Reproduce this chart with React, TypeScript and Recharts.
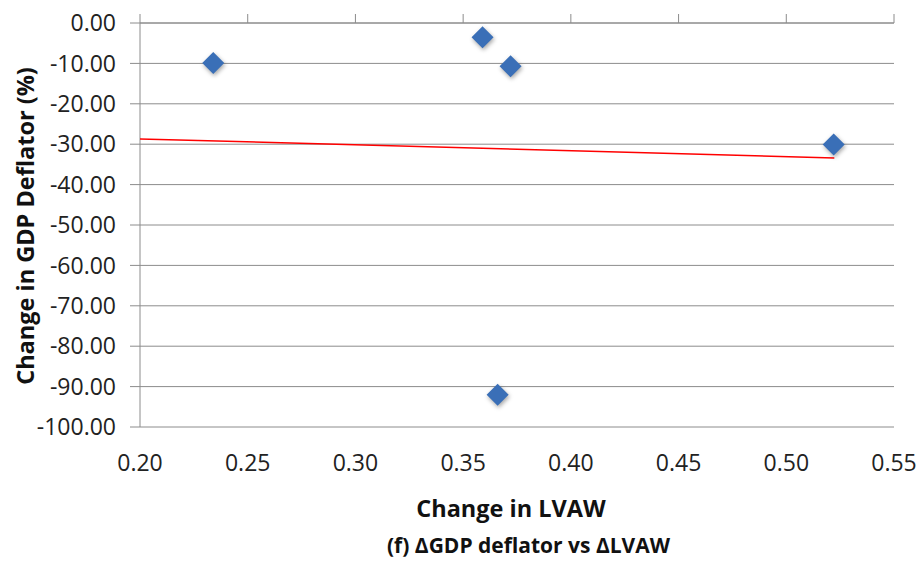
import React from 'react';
import { ScatterChart, Scatter, XAxis, YAxis, CartesianGrid } from 'recharts';

const xTicks = [0.2, 0.25, 0.3, 0.35, 0.4, 0.45, 0.5, 0.55];
const yTicks = [0, -10, -20, -30, -40, -50, -60, -70, -80, -90, -100];
const lvaw = [0.234, 0.359, 0.372, 0.522, 0.366];
const gdpDeflator = [-9.9, -3.5, -10.7, -30.1, -92.0];
const trendX = [0.2, 0.5223];
const trendY = [-28.7, -33.4];

const points = lvaw.map((x, i) => ({ x, y: gdpDeflator[i] }));
const trend = trendX.map((x, i) => ({ x, y: trendY[i] }));

const FONT = '"Open Sans", "Noto Sans", sans-serif';

const Diamond = (props: any) => {
  const { cx, cy } = props;
  if (cx == null || cy == null) return <g />;
  const r = 11;
  return (
    <polygon
      points={`${cx},${cy - r} ${cx + r},${cy} ${cx},${cy + r} ${cx - r},${cy}`}
      fill="#3A6FB7"
      style={{ filter: 'drop-shadow(1px 2px 2px rgba(0,0,0,0.35))' }}
    />
  );
};

const Empty = () => <g />;

// X tick labels sit below the plot although the axis line is at the top (y = 0)
const BottomTick = (props: any) => {
  const { x, y, payload } = props;
  return (
    <text x={x} y={y + 459} textAnchor="middle" fill="#222" fontSize={23} fontFamily={FONT}>
      {Number(payload.value).toFixed(2)}
    </text>
  );
};

export default function App() {
  return (
    <div style={{ position: 'absolute', left: 0, top: 0, width: 919, height: 564, background: '#fff' }}>
      <ScatterChart width={919} height={564} margin={{ top: 14, right: 25, bottom: 137, left: 0 }}>
        <CartesianGrid horizontal={true} vertical={false} stroke="#8c8c8c" strokeWidth={1} />
        <XAxis
          orientation="top"
          type="number"
          dataKey="x"
          domain={[0.2, 0.55]}
          ticks={xTicks}
          height={9}
          tickSize={9}
          tickMargin={2}
          tick={<BottomTick />}
          axisLine={{ stroke: '#8c8c8c' }}
          tickLine={{ stroke: '#8c8c8c' }}
          allowDataOverflow
        />
        <YAxis
          type="number"
          dataKey="y"
          domain={[-100, 0]}
          ticks={yTicks}
          width={140}
          tickSize={10}
          tickMargin={14}
          axisLine={{ stroke: '#8c8c8c' }}
          tickLine={{ stroke: '#8c8c8c' }}
          tickFormatter={(v: number) => v.toFixed(2)}
          tick={{ fill: '#222', fontSize: 23, fontFamily: FONT }}
          allowDataOverflow
        />
        <Scatter
          data={trend}
          line={{ stroke: '#ff0000', strokeWidth: 1.5 }}
          shape={<Empty />}
          isAnimationActive={false}
        />
        <Scatter data={points} shape={<Diamond />} isAnimationActive={false} />
      </ScatterChart>
      <div
        style={{
          position: 'absolute',
          left: 0,
          width: 1022,
          top: 491,
          textAlign: 'center',
          fontFamily: FONT,
          fontWeight: 'bold',
          fontSize: 23.5,
          color: '#111',
          lineHeight: '34px',
        }}
      >
        Change in LVAW
      </div>
      <div
        style={{
          position: 'absolute',
          left: 0,
          width: 1057,
          top: 528,
          textAlign: 'center',
          fontFamily: FONT,
          fontWeight: 'bold',
          fontSize: 21,
          color: '#111',
          lineHeight: '34px',
        }}
      >
        (f) ΔGDP deflator vs ΔLVAW
      </div>
      <div
        style={{
          position: 'absolute',
          left: 25 - 200,
          top: 226 - 17,
          width: 400,
          height: 34,
          lineHeight: '34px',
          textAlign: 'center',
          transform: 'rotate(-90deg)',
          fontFamily: FONT,
          fontWeight: 'bold',
          fontSize: 23.5,
          color: '#111',
          whiteSpace: 'nowrap',
        }}
      >
        Change in GDP Deflator (%)
      </div>
    </div>
  );
}
